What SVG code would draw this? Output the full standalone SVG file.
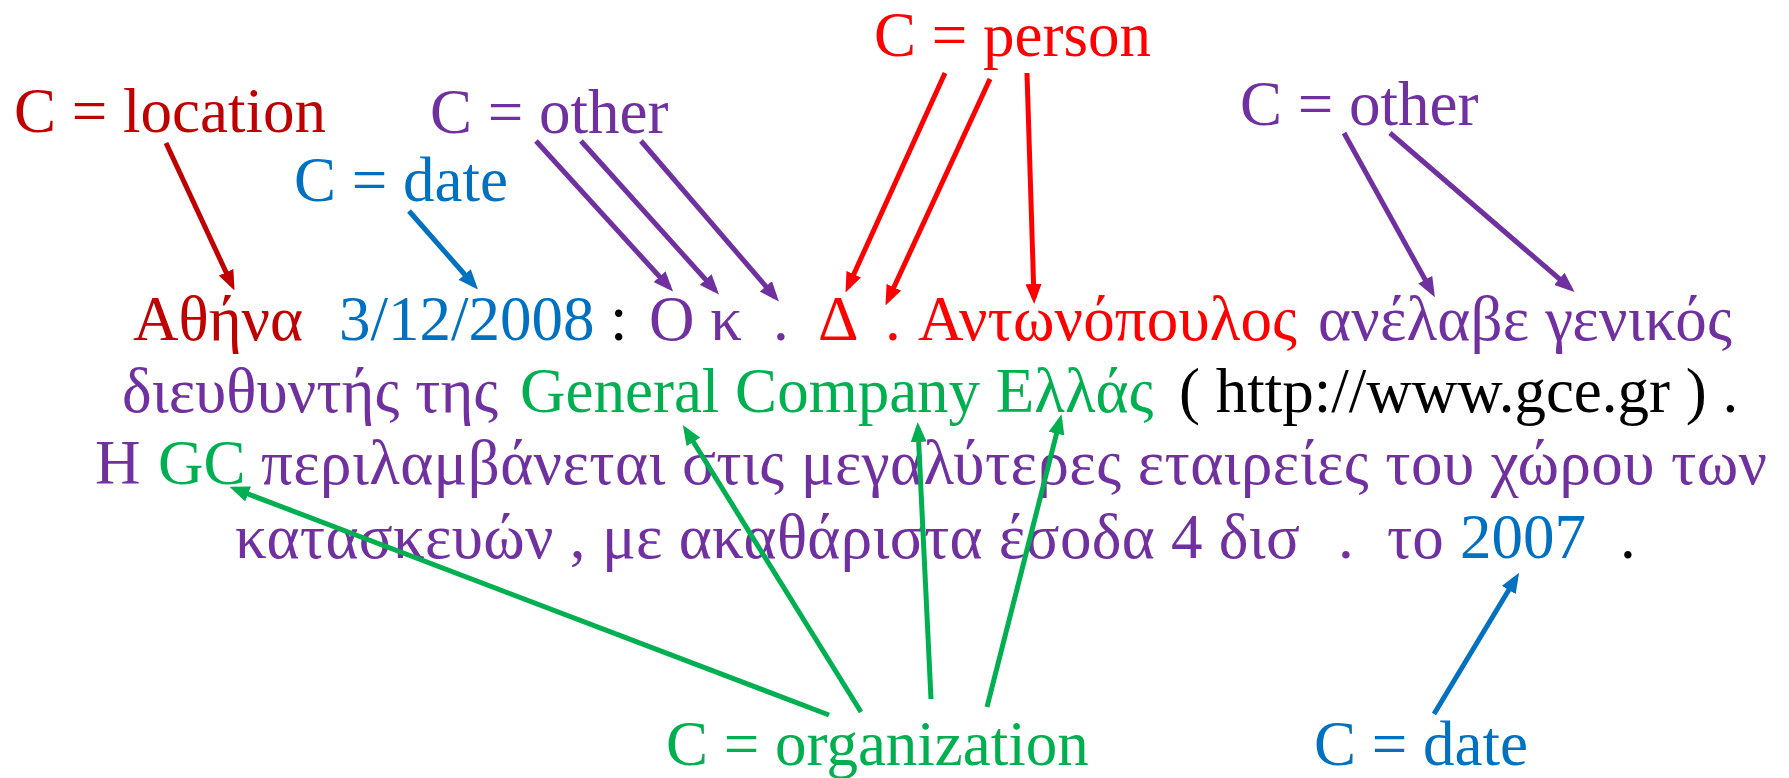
<svg xmlns="http://www.w3.org/2000/svg" width="1789" height="778" viewBox="0 0 1789 778">
<style>
text{font-family:"Liberation Serif","Times New Roman",serif;font-size:63px}
.dr{fill:#C00000}.rd{fill:#FF0000}.bl{fill:#0070C0}.pu{fill:#7030A0}.gr{fill:#00B050}.bk{fill:#000}
.c line{stroke-width:5;fill:none}
</style>
<defs>
<marker id="mdr" viewBox="0 0 20 16" refX="14" refY="8" markerWidth="20" markerHeight="16" markerUnits="userSpaceOnUse" orient="auto"><path d="M0,0 L20,8 L0,16 z" fill="#C00000"/></marker>
<marker id="mrd" viewBox="0 0 20 16" refX="14" refY="8" markerWidth="20" markerHeight="16" markerUnits="userSpaceOnUse" orient="auto"><path d="M0,0 L20,8 L0,16 z" fill="#FF0000"/></marker>
<marker id="mbl" viewBox="0 0 20 16" refX="14" refY="8" markerWidth="20" markerHeight="16" markerUnits="userSpaceOnUse" orient="auto"><path d="M0,0 L20,8 L0,16 z" fill="#0070C0"/></marker>
<marker id="mpu" viewBox="0 0 20 16" refX="14" refY="8" markerWidth="20" markerHeight="16" markerUnits="userSpaceOnUse" orient="auto"><path d="M0,0 L20,8 L0,16 z" fill="#7030A0"/></marker>
<marker id="mgr" viewBox="0 0 20 16" refX="14" refY="8" markerWidth="20" markerHeight="16" markerUnits="userSpaceOnUse" orient="auto"><path d="M0,0 L20,8 L0,16 z" fill="#00B050"/></marker>
</defs>
<rect width="1789" height="778" fill="#fff"/>

<g id="sentence">
<text class="dr" x="133" y="340">Αθήνα</text>
<text class="bl" x="339" y="340">3/12/2008</text>
<text class="bk" x="610" y="340">:</text>
<text class="pu" x="649" y="340">Ο κ</text>
<text class="pu" x="773" y="340">.</text>
<text class="rd" x="818" y="340">Δ</text>
<text class="rd" x="885" y="340">.</text>
<text class="rd" x="918" y="340" textLength="379">Αντωνόπουλος</text>
<text class="pu" x="1318" y="340" textLength="414">ανέλαβε γενικός</text>
<text class="pu" x="122" y="412">διευθυντής της</text>
<text class="gr" x="520" y="412">General Company Ελλάς</text>
<text class="bk" x="1179" y="412">( http://www.gce.gr ) .</text>
<text class="pu" x="95" y="484">Η</text>
<text class="gr" x="158" y="484">GC</text>
<text class="pu" x="261" y="484" textLength="1506">περιλαμβάνεται στις μεγαλύτερες εταιρείες του χώρου των</text>
<text class="pu" x="235" y="558" textLength="1065">κατασκευών , με ακαθάριστα έσοδα 4 δισ</text>
<text class="pu" x="1338" y="558">.</text>
<text class="pu" x="1387" y="558">το</text>
<text class="bl" x="1460" y="558">2007</text>
<text class="bk" x="1620" y="558">.</text>
</g>

<g id="label-location"><text class="dr" x="14" y="132">C = location</text></g>
<g id="label-date-top"><text class="bl" x="294" y="201">C = date</text></g>
<g id="label-other-left"><text class="pu" x="430" y="133">C = other</text></g>
<g id="label-person"><text class="rd" x="874" y="56">C = person</text></g>
<g id="label-other-right"><text class="pu" x="1240" y="125">C = other</text></g>
<g id="label-organization"><text class="gr" x="666" y="765">C = organization</text></g>
<g id="label-date-bottom"><text class="bl" x="1314" y="765">C = date</text></g>

<g id="connectors" class="c">
<line x1="166" y1="143" x2="232" y2="285" stroke="#C00000" marker-end="url(#mdr)"/>
<line x1="409" y1="211" x2="474" y2="285" stroke="#0070C0" marker-end="url(#mbl)"/>
<line x1="536" y1="141" x2="669" y2="287" stroke="#7030A0" marker-end="url(#mpu)"/>
<line x1="581" y1="141" x2="715" y2="290" stroke="#7030A0" marker-end="url(#mpu)"/>
<line x1="641" y1="141" x2="775" y2="297" stroke="#7030A0" marker-end="url(#mpu)"/>
<line x1="945" y1="73" x2="848" y2="287" stroke="#FF0000" marker-end="url(#mrd)"/>
<line x1="990" y1="79" x2="888" y2="300" stroke="#FF0000" marker-end="url(#mrd)"/>
<line x1="1027" y1="73" x2="1034" y2="298" stroke="#FF0000" marker-end="url(#mrd)"/>
<line x1="1344" y1="133" x2="1432" y2="292" stroke="#7030A0" marker-end="url(#mpu)"/>
<line x1="1390" y1="133" x2="1570" y2="288" stroke="#7030A0" marker-end="url(#mpu)"/>
<line x1="829" y1="715" x2="235" y2="489" stroke="#00B050" marker-end="url(#mgr)"/>
<line x1="861" y1="712" x2="686" y2="430" stroke="#00B050" marker-end="url(#mgr)"/>
<line x1="931" y1="699" x2="918" y2="428" stroke="#00B050" marker-end="url(#mgr)"/>
<line x1="987" y1="707" x2="1060" y2="420" stroke="#00B050" marker-end="url(#mgr)"/>
<line x1="1434" y1="714" x2="1516" y2="578" stroke="#0070C0" marker-end="url(#mbl)"/>
</g>
</svg>
